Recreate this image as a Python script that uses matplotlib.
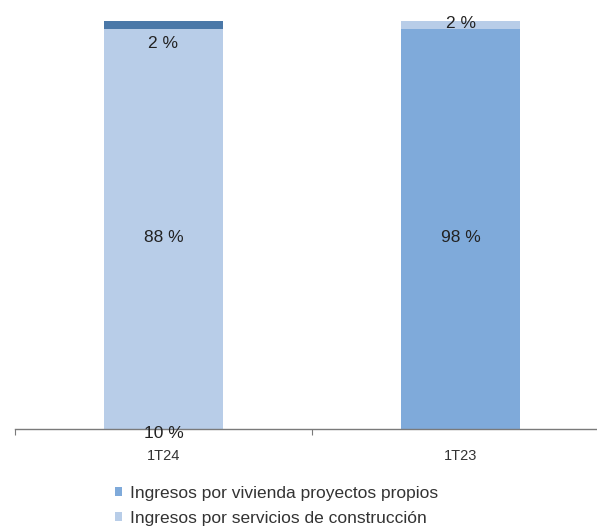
import matplotlib
matplotlib.use("Agg")
import matplotlib.pyplot as plt
from matplotlib.patches import Patch

categories = ["1T24", "1T23"]
vivienda = [0, 98]        # Ingresos por vivienda proyectos propios
servicios = [98, 2]       # Ingresos por servicios de construcción
otros = [2, 0]            # thin dark strip on 1T24
labels_1t24 = ["10 %", "88 %", "2 %"]
labels_1t23 = ["98 %", "2 %"]

c_viv = "#7FAADA"
c_serv = "#B8CDE8"
c_dark = "#4A78A8"

plt.rcParams['font.family'] = ['Liberation Sans', 'DejaVu Sans']

fig = plt.figure(figsize=(5.97, 5.27), dpi=100)
ax = fig.add_axes([15/597, (527-429)/527, 594/597, 408/527])

x = list(range(len(categories)))
w = 0.4
ax.bar(x, vivienda, w, color=c_viv)
ax.bar(x, servicios, w, bottom=vivienda, color=c_serv)
b2 = [a + b for a, b in zip(vivienda, servicios)]
ax.bar(x, otros, w, bottom=b2, color=c_dark)

ax.set_xlim(-0.5, 1.5)
ax.set_ylim(0, 100)

fs = 12.5
ax.text(0, -1, labels_1t24[0], ha='center', va='center', fontsize=fs, color='#222222')
ax.text(0, 47, labels_1t24[1], ha='center', va='center', fontsize=fs, color='#222222')
ax.text(0, 94.5, labels_1t24[2], ha='center', va='center', fontsize=fs, color='#222222')
ax.text(1, 47, labels_1t23[0], ha='center', va='center', fontsize=fs, color='#222222')
ax.text(1, 99.5, labels_1t23[1], ha='center', va='center', fontsize=fs, color='#222222')

for s in ['top', 'right', 'left']:
    ax.spines[s].set_visible(False)
ax.spines['bottom'].set_color('#7a7a7a')
ax.spines['bottom'].set_linewidth(1.0)
ax.set_yticks([])
ax.set_xticks([-0.5, 0.5, 1.5])
ax.set_xticklabels([])
ax.tick_params(axis='x', length=4, color='#7a7a7a', direction='out')
for i, c in enumerate(categories):
    ax.text(i, -6.6, c, ha='center', va='center', fontsize=10.5, color='#333333')

handles = [Patch(facecolor=c_viv, label="Ingresos por vivienda proyectos propios"),
           Patch(facecolor=c_serv, label="Ingresos por servicios de construcción")]
fig.legend(handles=handles, loc='upper left', bbox_to_anchor=(115/597, 1 - 486/527),
           frameon=False, fontsize=12.5, handlelength=0.4, handleheight=0.4,
           handletextpad=0.45, labelspacing=0.55, borderaxespad=0, borderpad=0,
           labelcolor='#333333')

fig.savefig("out.png", dpi=100)
